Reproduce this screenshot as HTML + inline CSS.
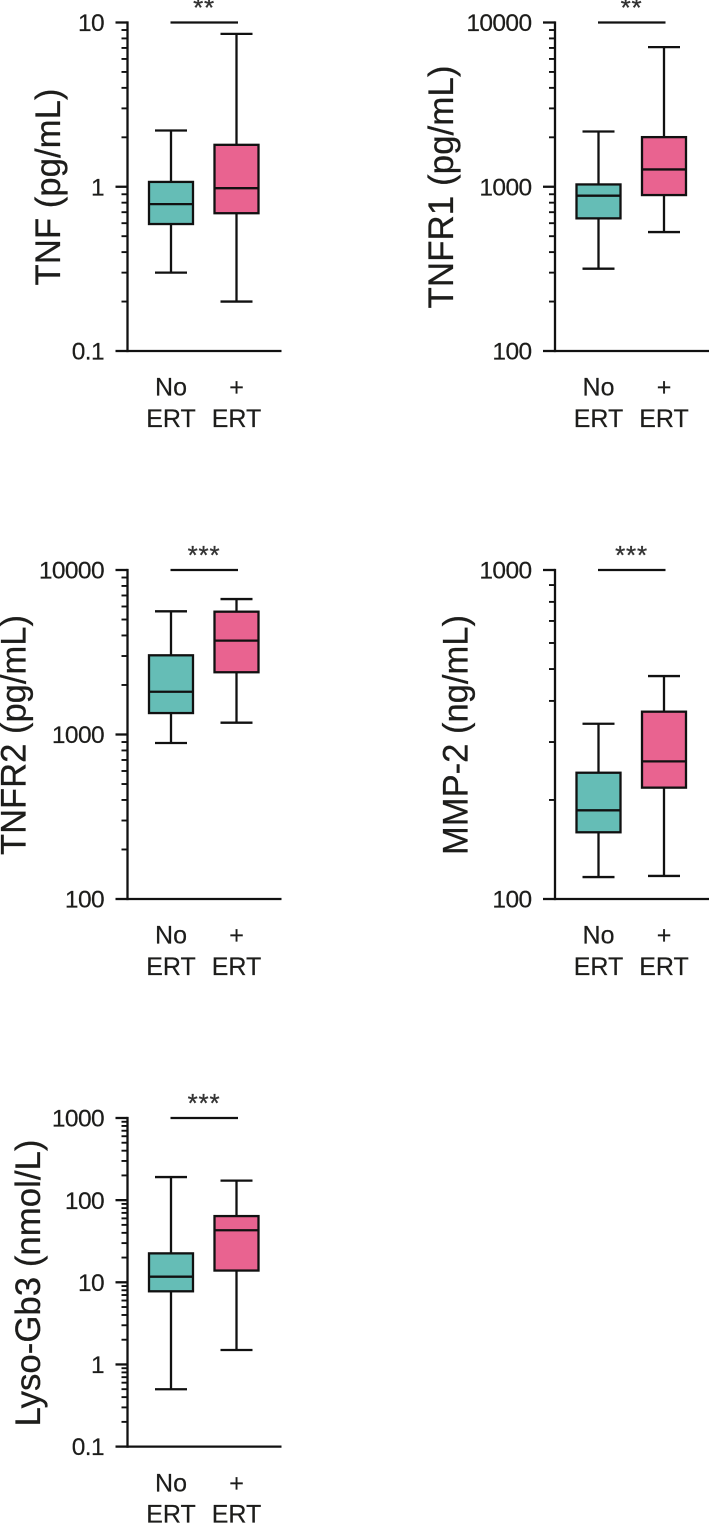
<!DOCTYPE html>
<html lang="en">
<head>
<meta charset="utf-8">
<title>Box plots of cytokine and Lyso-Gb3 levels with and without ERT</title>
<style>
html,body{margin:0;padding:0;background:#fff;width:709px;height:1523px;overflow:hidden}
svg{display:block}
text{font-family:"Liberation Sans",Arial,sans-serif;fill:#1d1d1b}
</style>
</head>
<body>
<svg id="figure" xmlns="http://www.w3.org/2000/svg" width="709" height="1523" viewBox="0 0 709 1523"></svg>
<script>
// Each box series: [low whisker, Q1, median, Q3, high whisker]
const categoriesTop = ['No', '+'];
const categoriesBottom = ['ERT', 'ERT'];

const tnfNoErt = [0.30, 0.593, 0.784, 1.07, 2.2];
const tnfPlusErt = [0.20, 0.69, 0.98, 1.80, 8.53];
const tnfTicks = ['0.1', '1', '10'];

const tnfr1NoErt = [317, 642, 882, 1033, 2170];
const tnfr1PlusErt = [530, 890, 1275, 2005, 7080];
const tnfr1Ticks = ['100', '1000', '10000'];

const tnfr2NoErt = [888, 1350, 1820, 3030, 5610];
const tnfr2PlusErt = [1180, 2390, 3720, 5580, 6660];
const tnfr2Ticks = ['100', '1000', '10000'];

const mmp2NoErt = [116.6, 159.5, 186, 242, 341];
const mmp2PlusErt = [117.5, 218, 262, 371, 476];
const mmp2Ticks = ['100', '1000'];

const lysoNoErt = [0.499, 7.77, 11.7, 22.5, 191];
const lysoPlusErt = [1.5, 13.9, 43, 64, 173];
const lysoTicks = ['0.1', '1', '10', '100', '1000'];

const NS = 'http://www.w3.org/2000/svg';
const INK = '#111111';
const LW = 2.3;
const svg = document.getElementById('figure');

function shape(parent, tag, attrs) {
  const el = document.createElementNS(NS, tag);
  for (const k in attrs) el.setAttribute(k, attrs[k]);
  parent.appendChild(el);
  return el;
}

function line(parent, x1, y1, x2, y2, w) {
  const el = shape(parent, 'line', { x1: x1, y1: y1, x2: x2, y2: y2, stroke: INK, 'stroke-width': w });
  return el;
}

function logScale(ticks, top, bottom) {
  const lo = Math.log10(Number(ticks[0]));
  const hi = Math.log10(Number(ticks[ticks.length - 1]));
  return function (v) {
    return bottom - (Math.log10(v) - lo) / (hi - lo) * (bottom - top);
  };
}

function drawBox(g, name, values, cx, fill, y) {
  const low = values[0], q1 = values[1], med = values[2], q3 = values[3], high = values[4];
  const box = document.createElementNS(NS, 'g');
  
  
  g.appendChild(box);
  line(box, cx, y(high), cx, y(low), LW);
  line(box, cx - 16, y(high), cx + 16, y(high), LW);
  line(box, cx - 16, y(low), cx + 16, y(low), LW);
  shape(box, 'rect', { x: cx - 22, y: y(q3), width: 44, height: y(q1) - y(q3), fill: fill, stroke: INK, 'stroke-width': LW });
  line(box, cx - 22, y(med), cx + 22, y(med), LW);
}

function drawPanel(p) {
  const g = document.createElementNS(NS, 'g');
  
  
  svg.appendChild(g);

  const y = logScale(p.ticks, p.top, p.bottom);
  const axisX = p.left;
  const cx1 = axisX + 43.5, cx2 = axisX + 109;

  // y axis with log ticks
  const yAxis = document.createElementNS(NS, 'g');
  
  
  g.appendChild(yAxis);
  line(yAxis, axisX, p.top - 1.1, axisX, p.bottom + 1.1, LW);

  p.ticks.forEach(function (label, i) {
    const value = Number(label);
    line(yAxis, axisX - 12, y(value), axisX, y(value), LW);
    const t = shape(yAxis, 'text', { x: axisX - 23.5, y: y(value) + 8.6, 'text-anchor': 'end', 'font-size': 24.5, 'letter-spacing': '-0.6', stroke: '#1d1d1b', 'stroke-width': 0.2 });
    
    
    t.textContent = label;
    if (i < p.ticks.length - 1) {
      for (let m = 2; m <= 9; m++) {
        line(yAxis, axisX - 6, y(value * m), axisX, y(value * m), 1.9);
      }
    }
  });

  // x axis
  const xAxis = document.createElementNS(NS, 'g');
  
  
  g.appendChild(xAxis);
  line(xAxis, axisX, p.bottom, axisX + 154, p.bottom, LW);
  [cx1, cx2].forEach(function (cx, i) {
    const a = shape(xAxis, 'text', { x: cx, y: p.bottom + 44.7, 'text-anchor': 'middle', 'font-size': 25, stroke: '#1d1d1b', 'stroke-width': 0.2 });
    
    
    a.textContent = categoriesTop[i];
    const b = shape(xAxis, 'text', { x: cx, y: p.bottom + 76, 'text-anchor': 'middle', 'font-size': 25, stroke: '#1d1d1b', 'stroke-width': 0.2 });
    
    
    b.textContent = categoriesBottom[i];
  });

  // y-axis title
  const title = shape(g, 'text', {
    transform: 'translate(' + p.titleX + ',' + p.titleY + ') rotate(-90)',
    'text-anchor': 'middle', 'font-size': 35.5, textLength: p.titleLength, lengthAdjust: 'spacingAndGlyphs',
    stroke: '#1d1d1b', 'stroke-width': 0.25
  });
  
  
  title.textContent = p.title;

  drawBox(g, 'box-no-ert', p.noErt, cx1, '#65bdb6', y);
  drawBox(g, 'box-plus-ert', p.plusErt, cx2, '#e96390', y);

  // significance bracket
  const bar = line(g, axisX + 43, p.top, axisX + 110.5, p.top, LW);
  
  
  const stars = shape(g, 'text', { x: axisX + 76.5, y: p.top - 6, 'text-anchor': 'middle', 'font-size': 26, 'letter-spacing': '0.8', stroke: '#333333', 'stroke-width': 0.3 });
  
  
  stars.style.fill = '#333333';
  stars.textContent = p.stars;
}

drawPanel({ name: 'tnf-panel', title: 'TNF (pg/mL)', stars: '**', ticks: tnfTicks, noErt: tnfNoErt, plusErt: tnfPlusErt,
  left: 127.5, top: 22.5, bottom: 351, titleX: 60, titleY: 187, titleLength: 197 });
drawPanel({ name: 'tnfr1-panel', title: 'TNFR1 (pg/mL)', stars: '**', ticks: tnfr1Ticks, noErt: tnfr1NoErt, plusErt: tnfr1PlusErt,
  left: 555, top: 22.5, bottom: 351, titleX: 453, titleY: 187, titleLength: 243 });
drawPanel({ name: 'tnfr2-panel', title: 'TNFR2 (pg/mL)', stars: '***', ticks: tnfr2Ticks, noErt: tnfr2NoErt, plusErt: tnfr2PlusErt,
  left: 127.5, top: 570, bottom: 899, titleX: 25.7, titleY: 735, titleLength: 240 });
drawPanel({ name: 'mmp2-panel', title: 'MMP-2 (ng/mL)', stars: '***', ticks: mmp2Ticks, noErt: mmp2NoErt, plusErt: mmp2PlusErt,
  left: 555, top: 570, bottom: 899, titleX: 467.7, titleY: 735, titleLength: 240 });
drawPanel({ name: 'lyso-gb3-panel', title: 'Lyso-Gb3 (nmol/L)', stars: '***', ticks: lysoTicks, noErt: lysoNoErt, plusErt: lysoPlusErt,
  left: 127.5, top: 1118, bottom: 1446.6, titleX: 40, titleY: 1283, titleLength: 287 });
</script>
</body>
</html>
